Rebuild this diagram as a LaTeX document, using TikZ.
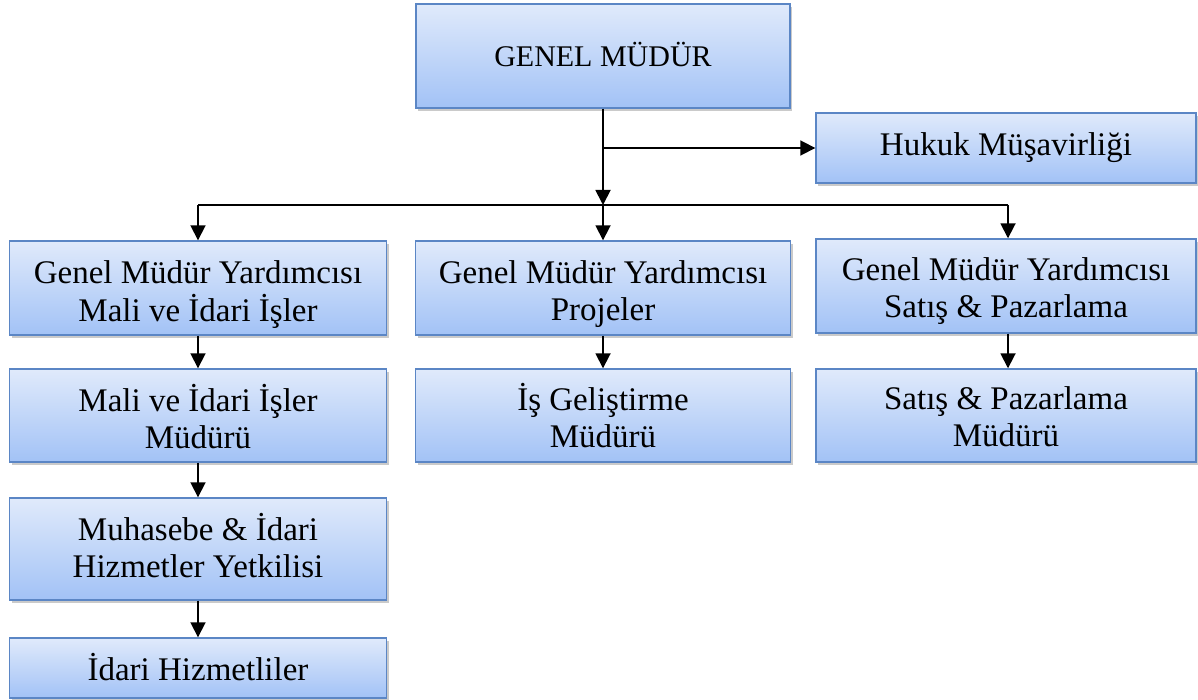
\documentclass[tikz,border=0pt]{standalone}
\usepackage{fontspec}
\setmainfont{Liberation Serif}
\usetikzlibrary{arrows.meta,shadows}

\definecolor{boxtop}{HTML}{E0EAFB}
\definecolor{boxbot}{HTML}{A2C2F6}
\definecolor{boxline}{HTML}{5B86C5}

% centred lines on a fixed strut grid, lowered by #1 without changing the box size
\newcommand\orgtext[2][0pt]{\raisebox{-#1}[\height][\depth]{\begin{tabular}{@{}c@{}}#2\end{tabular}}}

\tikzset{
  unit/.style={draw=boxline, line width=1.4pt, top color=boxtop, bottom color=boxbot,
    inner sep=0pt, font=\fontsize{33}{37}\selectfont,
    drop shadow={shadow xshift=2pt, shadow yshift=-3pt, opacity=0.35, fill=black!60}},
  link/.style={line width=1.8pt, -{Triangle[length=15pt,width=15pt]}},
  bar/.style={line width=1.8pt}
}

\begin{document}
\begin{tikzpicture}[x=1pt, y=-1pt]
  \useasboundingbox (0,0) rectangle (1198,700);

  % top management
  \node[unit, minimum width=374pt, minimum height=104pt, font=\fontsize{30}{37}\selectfont] (gm) at (603,56) {\orgtext[3.5pt]{GENEL MÜDÜR}};
  \node[unit, minimum width=380pt, minimum height=70pt] (hk) at (1006,148) {\orgtext{Hukuk Müşavirliği}};

  % deputy general managers
  \node[unit, minimum width=377pt, minimum height=94pt] (a1) at (198,288) {\orgtext[7pt]{Genel Müdür Yardımcısı\\Mali ve İdari İşler}};
  \node[unit, minimum width=375pt, minimum height=94pt] (a2) at (603,288) {\orgtext[7pt]{Genel Müdür Yardımcısı\\Projeler}};
  \node[unit, minimum width=380pt, minimum height=94pt] (a3) at (1006,286) {\orgtext[5.5pt]{Genel Müdür Yardımcısı\\Satış \& Pazarlama}};

  % managers
  \node[unit, minimum width=377pt, minimum height=93pt] (b1) at (198,415.5) {\orgtext[6pt]{Mali ve İdari İşler\\Müdürü}};
  \node[unit, minimum width=375pt, minimum height=93pt] (b2) at (603,415.5) {\orgtext[5.5pt]{İş Geliştirme\\Müdürü}};
  \node[unit, minimum width=380pt, minimum height=93pt] (b3) at (1006,415.5) {\orgtext[5.5pt]{Satış \& Pazarlama\\Müdürü}};

  % staff under finance & administration
  \node[unit, minimum width=377pt, minimum height=102pt] (c1) at (198,549) {\orgtext[2pt]{Muhasebe \& İdari\\Hizmetler Yetkilisi}};
  \node[unit, minimum width=377pt, minimum height=60pt] (d1) at (198,668) {\orgtext[4.5pt]{İdari Hizmetliler}};

  % trunk and distribution bus
  \coordinate (tap) at (603,148);
  \coordinate (bus) at (603,205);
  \coordinate (busL) at (198,205);
  \coordinate (busR) at (1008,205);

  \draw[link] (gm.south) -- (bus);
  \draw[link] (tap) -- (hk.west);
  \draw[bar] (busL) -- (busR);
  \draw[link] (busL) -- (a1.north);
  \draw[link] (bus) -- (a2.north);
  \draw[link] (busR) -- (busR |- a3.north);

  % column links
  \draw[link] (a1) -- (b1);
  \draw[link] (a2) -- (b2);
  \draw[link] (busR |- a3.south) -- (busR |- b3.north);
  \draw[link] (b1) -- (c1);
  \draw[link] (c1) -- (d1);
\end{tikzpicture}
\end{document}
